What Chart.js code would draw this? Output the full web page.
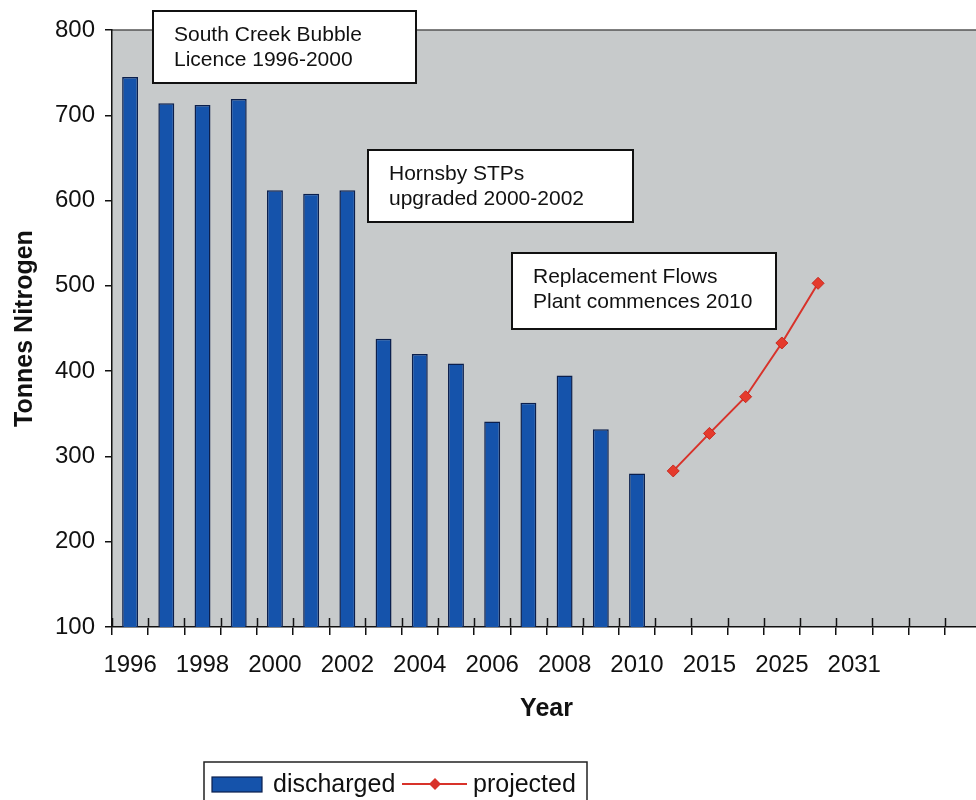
<!DOCTYPE html>
<html>
<head>
<meta charset="utf-8">
<title>Tonnes Nitrogen</title>
<script src="https://cdn.jsdelivr.net/npm/chart.js@4/dist/chart.umd.min.js"></script>
<style>
  html, body { margin: 0; padding: 0; background: #fff; overflow: hidden; }
  #wrap { position: relative; width: 991px; height: 800px; }
</style>
</head>
<body>
<div id="wrap"><canvas id="chart"></canvas></div>
<script>
// year labels under the axis (only every second category is labelled)
const years = ['1996', '', '1998', '', '2000', '', '2002', '', '2004', '', '2006', '', '2008', '', '2010',
               '', '2015', '', '2025', '', '2031', '', '', ''];
// tonnes of nitrogen discharged, 1996-2010
const discharged = [745, 714, 712, 719, 612, 608, 612, 438, 420, 409, 341, 363, 395, 332, 280];
// projected load after 2010
const projected = [283, 327, 370, 433, 503];
const yTicks = [100, 200, 300, 400, 500, 600, 700, 800];

const noteLines = [
    ['South Creek Bubble', 'Licence 1996-2000'],
    ['Hornsby STPs', 'upgraded 2000-2002'],
    ['Replacement Flows', 'Plant commences 2010']
];
const noteBoxes = [
    { x: 153, y: 11, w: 263, h: 72 },
    { x: 368, y: 150, w: 265, h: 72 },
    { x: 512, y: 253, w: 264, h: 76 }
];

const FONT = '"Liberation Sans", Arial, sans-serif';
const BAR_FILL = '#1553ab';
const BAR_EDGE = '#0b1f4d';
const RED = '#d8322a';

const projectedData = Array(discharged.length).fill(null).concat(projected);

// grey plot area with a thin top rule
const plotBackground = {
    id: 'plotBackground',
    beforeDraw(chart) {
        const { ctx, chartArea: a } = chart;
        ctx.save();
        ctx.fillStyle = '#c7cacb';
        ctx.fillRect(a.left, a.top, a.right - a.left, a.bottom - a.top);
        ctx.strokeStyle = '#555';
        ctx.lineWidth = 1.5;
        ctx.beginPath();
        ctx.moveTo(a.left, a.top);
        ctx.lineTo(a.right, a.top);
        ctx.stroke();
        ctx.restore();
    }
};

// x tick marks cross the axis, so draw the part above it too
const innerTicks = {
    id: 'innerTicks',
    afterDatasetsDraw(chart) {
        const { ctx, chartArea: a } = chart;
        const xs = chart.scales.x;
        ctx.save();
        ctx.strokeStyle = '#111';
        ctx.lineWidth = 1.5;
        for (let i = 0; i <= years.length; i++) {
            const px = Math.round(xs.getPixelForValue(i - 0.5)) + 0.5;
            ctx.beginPath();
            ctx.moveTo(px, a.bottom - 9);
            ctx.lineTo(px, a.bottom);
            ctx.stroke();
        }
        ctx.restore();
    }
};

// boxed notes and the framed legend
const notesAndLegend = {
    id: 'notesAndLegend',
    afterDraw(chart) {
        const ctx = chart.ctx;
        ctx.save();
        noteBoxes.forEach((b, i) => {
            ctx.fillStyle = '#fff';
            ctx.fillRect(b.x, b.y, b.w, b.h);
            ctx.strokeStyle = '#111';
            ctx.lineWidth = 2;
            ctx.strokeRect(b.x, b.y, b.w, b.h);
            ctx.fillStyle = '#111';
            ctx.font = '21px ' + FONT;
            ctx.textBaseline = 'middle';
            noteLines[i].forEach((t, j) => ctx.fillText(t, b.x + 21, b.y + 24 + j * 25));
        });

        // legend
        ctx.fillStyle = '#fff';
        ctx.fillRect(204, 762, 383, 60);
        ctx.strokeStyle = '#222';
        ctx.lineWidth = 1.5;
        ctx.strokeRect(204, 762, 383, 60);
        ctx.fillStyle = BAR_FILL;
        ctx.fillRect(212, 777, 50, 15);
        ctx.strokeStyle = BAR_EDGE;
        ctx.lineWidth = 1.2;
        ctx.strokeRect(212, 777, 50, 15);
        ctx.fillStyle = '#111';
        ctx.font = '25px ' + FONT;
        ctx.textBaseline = 'middle';
        ctx.fillText(chart.data.datasets[0].label, 273, 785);
        ctx.strokeStyle = RED;
        ctx.lineWidth = 2;
        ctx.beginPath();
        ctx.moveTo(402, 784);
        ctx.lineTo(467, 784);
        ctx.stroke();
        ctx.fillStyle = RED;
        ctx.beginPath();
        ctx.moveTo(435, 778);
        ctx.lineTo(441, 784);
        ctx.lineTo(435, 790);
        ctx.lineTo(429, 784);
        ctx.closePath();
        ctx.fill();
        ctx.fillStyle = '#111';
        ctx.fillText(chart.data.datasets[1].label, 473, 785);
        ctx.restore();
    }
};

new Chart(document.getElementById('chart'), {
    data: {
        labels: years,
        datasets: [
            {
                type: 'bar',
                label: 'discharged',
                data: discharged,
                backgroundColor: BAR_FILL,
                borderColor: BAR_EDGE,
                borderWidth: 1.5,
                categoryPercentage: 1,
                barPercentage: 0.44,
                order: 2
            },
            {
                type: 'line',
                label: 'projected',
                data: projectedData,
                borderColor: RED,
                borderWidth: 2,
                pointStyle: 'rectRot',
                pointRadius: 6,
                pointBackgroundColor: '#e53a2c',
                pointBorderColor: '#c72a20',
                pointBorderWidth: 1,
                tension: 0,
                spanGaps: false,
                order: 1
            }
        ]
    },
    options: {
        responsive: true,
        maintainAspectRatio: false,
        animation: false,
        layout: { padding: { top: 30, right: 10, bottom: 66, left: 0 } },
        plugins: {
            legend: { display: false },
            tooltip: { enabled: false }
        },
        scales: {
            x: {
                type: 'category',
                offset: true,
                grid: {
                    offset: true,
                    drawOnChartArea: false,
                    tickLength: 8,
                    color: '#111',
                    lineWidth: 1.5
                },
                border: { color: '#111', width: 1.5 },
                ticks: {
                    autoSkip: false,
                    maxRotation: 0,
                    padding: 16,
                    color: '#111',
                    font: { family: FONT, size: 24 }
                },
                title: {
                    display: true,
                    text: 'Year',
                    color: '#111',
                    padding: { top: 10, bottom: 10 },
                    font: { family: FONT, size: 25, weight: 'bold' }
                },
                afterFit(scale) { scale.height = 107; }
            },
            y: {
                min: yTicks[0],
                max: yTicks[yTicks.length - 1],
                afterBuildTicks(scale) { scale.ticks = yTicks.map(v => ({ value: v })); },
                grid: {
                    drawOnChartArea: false,
                    tickLength: 7,
                    color: '#111',
                    lineWidth: 1.5
                },
                border: { color: '#111', width: 1.5 },
                ticks: {
                    padding: 10,
                    color: '#111',
                    font: { family: FONT, size: 24 }
                },
                title: {
                    display: true,
                    text: 'Tonnes Nitrogen',
                    color: '#111',
                    padding: { top: 10, bottom: 10 },
                    font: { family: FONT, size: 25, weight: 'bold' }
                },
                afterFit(scale) { scale.width = 112; }
            }
        }
    },
    plugins: [plotBackground, innerTicks, notesAndLegend]
});
</script>
</body>
</html>
